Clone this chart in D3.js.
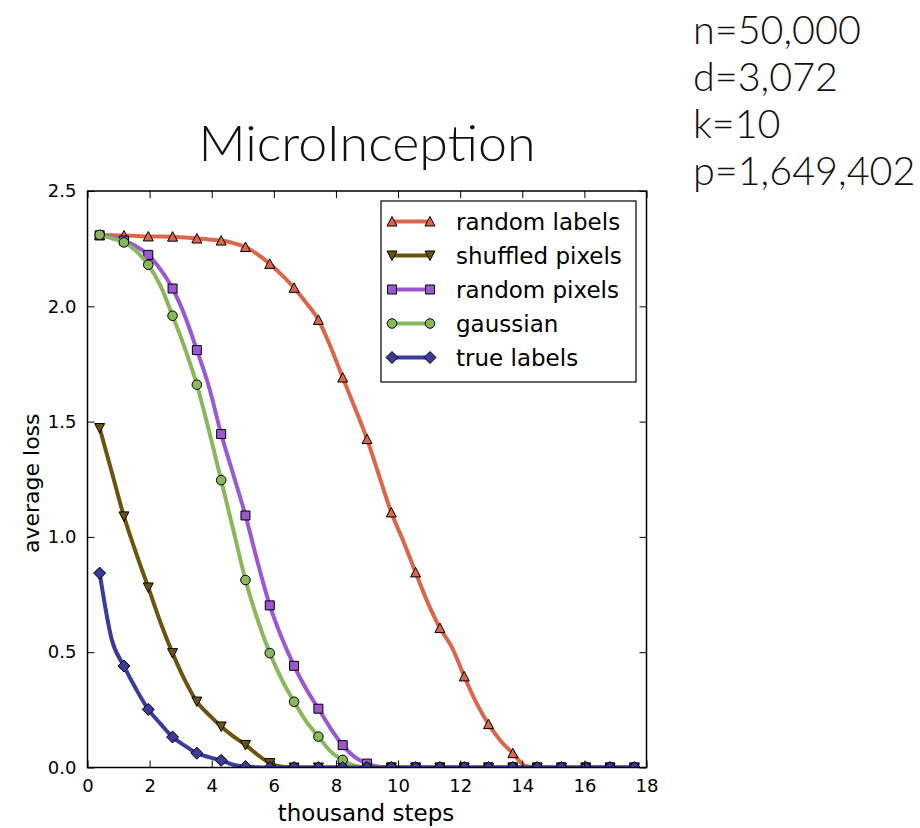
<!DOCTYPE html>
<html>
<head>
<meta charset="utf-8">
<script src="https://cdnjs.cloudflare.com/ajax/libs/d3/7.8.5/d3.min.js"></script>
<style>
  html, body { margin: 0; padding: 0; background: #fff; }
  svg { display: block; }
</style>
</head>
<body>
<svg id="chart" width="920" height="828"></svg>
<script>
// Training steps (thousands) at which the average loss was logged
const steps = d3.range(45).map(j => (j + 1) * 18 / 46);
// Markers are drawn on every other logged point
const markerEvery = 2;

const seriesNames = ["random labels", "shuffled pixels", "random pixels", "gaussian", "true labels"];

const lossRandomLabels = [2.308, 2.308, 2.307, 2.305, 2.303, 2.303, 2.302, 2.298, 2.294, 2.290,
  2.285, 2.274, 2.257, 2.225, 2.184, 2.135, 2.080, 2.015, 1.941, 1.825,
  1.691, 1.560, 1.424, 1.265, 1.106, 0.980, 0.846, 0.715, 0.605, 0.520,
  0.395, 0.280, 0.188, 0.115, 0.062, 0.008, 0, 0, 0, 0,
  0, 0, 0, 0, 0];
const lossShuffledPixels = [1.472, 1.280, 1.089, 0.930, 0.781, 0.630, 0.496, 0.380, 0.286, 0.228,
  0.178, 0.135, 0.098, 0.055, 0.019, 0.003, 0, 0, 0, 0,
  0, 0, 0, 0, 0, 0, 0, 0, 0, 0,
  0, 0, 0, 0, 0, 0, 0, 0, 0, 0,
  0, 0, 0, 0, 0];
const lossRandomPixels = [2.308, 2.300, 2.285, 2.260, 2.223, 2.160, 2.077, 1.960, 1.810, 1.650,
  1.446, 1.270, 1.093, 0.890, 0.703, 0.560, 0.441, 0.340, 0.255, 0.170,
  0.097, 0.045, 0.017, 0.003, 0, 0, 0, 0, 0, 0,
  0, 0, 0, 0, 0, 0, 0, 0, 0, 0,
  0, 0, 0, 0, 0];
const lossGaussian = [2.310, 2.295, 2.277, 2.240, 2.180, 2.090, 1.959, 1.820, 1.660, 1.460,
  1.246, 1.030, 0.813, 0.640, 0.496, 0.380, 0.285, 0.200, 0.134, 0.070,
  0.033, 0.008, 0.001, 0, 0, 0, 0, 0, 0, 0,
  0, 0, 0, 0, 0, 0, 0, 0, 0, 0,
  0, 0, 0, 0, 0];
const lossTrueLabels = [0.843, 0.554, 0.440, 0.340, 0.252, 0.190, 0.132, 0.095, 0.062, 0.045,
  0.031, 0.012, 0.004, 0.001, 0, 0, 0, 0, 0, 0,
  0, 0, 0, 0, 0, 0, 0, 0, 0, 0,
  0, 0, 0, 0, 0, 0, 0, 0, 0, 0,
  0, 0, 0, 0, 0];

const xTicks = [0, 2, 4, 6, 8, 10, 12, 14, 16, 18];
const yTicks = [0.0, 0.5, 1.0, 1.5, 2.0, 2.5];

const statLines = ["n=50,000", "d=3,072", "k=10", "p=1,649,402"];

const colors = ["#dc664c", "#6c5410", "#9c57d2", "#88b85a", "#3b3b9c"];
const markerKinds = ["triangleUp", "triangleDown", "square", "circle", "diamond"];

const lossSeries = [lossRandomLabels, lossShuffledPixels, lossRandomPixels, lossGaussian, lossTrueLabels];

const svg = d3.select("#chart");
const plot = { left: 87.5, right: 646.5, top: 191, bottom: 767.5 };

const x = d3.scaleLinear().domain([0, 18]).range([plot.left, plot.right]);
const y = d3.scaleLinear().domain([0, 2.5]).range([plot.bottom, plot.top]);

const tickFont = "'DejaVu Sans', sans-serif";
const annotFont = "Lato, 'Open Sans', sans-serif";

// Title and dataset annotation
svg.append("text")
  .attr("x", (plot.left + plot.right) / 2)
  .attr("y", 161)
  .attr("text-anchor", "middle")
  .attr("textLength", 337)
  .attr("lengthAdjust", "spacingAndGlyphs")
  .style("font-family", annotFont)
  .style("font-weight", 300)
  .style("font-size", "49px")
  .attr("fill", "#111")
  .text("MicroInception");

svg.append("g").selectAll("text")
  .data(statLines)
  .join("text")
  .attr("x", 693)
  .attr("y", (d, i) => 44 + i * 47)
  .style("font-family", annotFont)
  .style("font-weight", 300)
  .style("font-size", "39.5px")
  .attr("fill", "#111")
  .text(d => d);

// Clip region for the data
svg.append("defs").append("clipPath").attr("id", "plotClip")
  .append("rect")
  .attr("x", plot.left).attr("y", plot.top)
  .attr("width", plot.right - plot.left).attr("height", plot.bottom - plot.top);

// Marker outlines, centred on the data point
function markerPath(kind) {
  const p = d3.path();
  switch (kind) {
    case "triangleUp":
      p.moveTo(0, -5); p.lineTo(5, 4.5); p.lineTo(-5, 4.5); p.closePath(); break;
    case "triangleDown":
      p.moveTo(0, 5); p.lineTo(5, -4.5); p.lineTo(-5, -4.5); p.closePath(); break;
    case "square":
      p.rect(-4.5, -4.5, 9, 9); break;
    case "circle":
      p.arc(0, 0, 4.8, 0, 2 * Math.PI); p.closePath(); break;
    case "diamond":
      p.moveTo(0, -6); p.lineTo(6, 0); p.lineTo(0, 6); p.lineTo(-6, 0); p.closePath(); break;
  }
  return p.toString();
}

const dataLayer = svg.append("g").attr("clip-path", "url(#plotClip)");

const line = d3.line()
  .x((d, i) => x(steps[i]))
  .y(d => y(d))
  .curve(d3.curveMonotoneX);

lossSeries.forEach((vals, s) => {
  const g = dataLayer.append("g");
  g.append("path")
    .attr("d", line(vals))
    .attr("fill", "none")
    .attr("stroke", colors[s])
    .attr("stroke-width", 4)
    .attr("stroke-linejoin", "round");
  const pts = vals.map((v, i) => ({ xv: steps[i], yv: v, i })).filter(p => p.i % markerEvery === 0);
  g.selectAll("path.m")
    .data(pts)
    .join("path")
    .attr("class", "m")
    .attr("d", markerPath(markerKinds[s]))
    .attr("transform", p => `translate(${x(p.xv)},${y(p.yv)})`)
    .attr("fill", colors[s])
    .attr("stroke", "#000")
    .attr("stroke-width", 1);
});

// Axes: ticks inside on all four sides
const tickLen = 7;
const axisBottom = d3.axisBottom(x).tickValues(xTicks).tickSizeInner(-tickLen).tickSizeOuter(0).tickPadding(12).tickFormat(d3.format("d"));
const axisTop = d3.axisTop(x).tickValues(xTicks).tickSizeInner(-tickLen).tickSizeOuter(0).tickFormat("");
const axisLeft = d3.axisLeft(y).tickValues(yTicks).tickSizeInner(-tickLen).tickSizeOuter(0).tickPadding(11).tickFormat(d3.format(".1f"));
const axisRight = d3.axisRight(y).tickValues(yTicks).tickSizeInner(-tickLen).tickSizeOuter(0).tickFormat("");

function styleAxis(g) {
  g.select(".domain").remove();
  g.selectAll(".tick line").attr("stroke", "#000").attr("stroke-width", 1);
  g.selectAll(".tick text").style("font-family", tickFont).style("font-size", "18px").attr("fill", "#000");
}

svg.append("g").attr("transform", `translate(0,${plot.bottom})`).call(axisBottom).call(styleAxis);
svg.append("g").attr("transform", `translate(0,${plot.top})`).call(axisTop).call(styleAxis);
svg.append("g").attr("transform", `translate(${plot.left},0)`).call(axisLeft).call(styleAxis);
svg.append("g").attr("transform", `translate(${plot.right},0)`).call(axisRight).call(styleAxis);

svg.append("rect")
  .attr("x", plot.left).attr("y", plot.top)
  .attr("width", plot.right - plot.left).attr("height", plot.bottom - plot.top)
  .attr("fill", "none").attr("stroke", "#000").attr("stroke-width", 1.5);

// Axis labels
svg.append("text")
  .attr("x", (plot.left + plot.right) / 2 - 1)
  .attr("y", 821)
  .attr("text-anchor", "middle")
  .style("font-family", tickFont).style("font-size", "23px")
  .text("thousand steps");

svg.append("text")
  .attr("transform", `translate(39,${(plot.top + plot.bottom) / 2 + 4}) rotate(-90)`)
  .attr("text-anchor", "middle")
  .style("font-family", tickFont).style("font-size", "22px")
  .text("average loss");

// Legend
const legend = svg.append("g");
legend.append("rect")
  .attr("x", 381).attr("y", 201).attr("width", 255).attr("height", 181)
  .attr("fill", "#fff").attr("stroke", "#000").attr("stroke-width", 1.2);

seriesNames.forEach((name, s) => {
  const cy = 221.5 + s * 34;
  const row = legend.append("g");
  row.append("line")
    .attr("x1", 392).attr("x2", 430).attr("y1", cy).attr("y2", cy)
    .attr("stroke", colors[s]).attr("stroke-width", 4);
  [392, 430].forEach(mx => {
    row.append("path")
      .attr("d", markerPath(markerKinds[s]))
      .attr("transform", `translate(${mx},${cy})`)
      .attr("fill", colors[s]).attr("stroke", "#000").attr("stroke-width", 1);
  });
  row.append("text")
    .attr("x", 456).attr("y", cy)
    .attr("dy", "0.35em")
    .style("font-family", tickFont).style("font-size", "23px")
    .text(name);
});
</script>
</body>
</html>
